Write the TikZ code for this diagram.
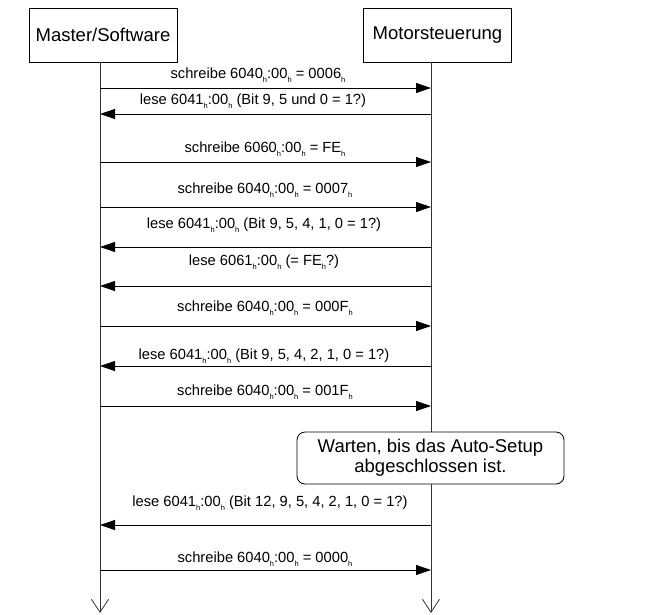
\documentclass[tikz,border=0pt]{standalone}
\usepackage{fontspec}
\setmainfont{Liberation Sans}
\usetikzlibrary{arrows.meta,shapes}
\newcommand{\hx}[1]{#1\raisebox{-0.45ex}{\fontsize{7.5}{8}\selectfont h}}
\tikzstyle{party}=[rectangle,draw=black,thick,minimum width=148pt,minimum height=54pt,font=\fontsize{18.5}{21}\selectfont]
\tikzstyle{note}=[rectangle,rounded corners=8pt,draw=black,thick,fill=white,minimum width=267pt,minimum height=52pt,align=center,font=\fontsize{18.5}{20}\selectfont]
\tikzstyle{lifeline}=[draw=black!80,thick,-{Straight Barb[length=13pt,width=17pt,line width=0.8pt]}]
\tikzstyle{msg}=[draw=black,thick]
\tikzstyle{label}=[inner sep=0pt,font=\fontsize{14.7}{16}\selectfont]

\begin{document}
\begin{tikzpicture}[x=1pt,y=-1pt,>={Triangle[length=15pt,width=10pt]}]
        \useasboundingbox (0,0) rectangle (646,614);

        \node at (103,35)   [party] (master) {Master/Software};
        \node at (437.5,35) [party] (motor)  {Motorsteuerung};

        \coordinate (mEnd) at (100,613);
        \coordinate (sEnd) at (431,613);
        \draw [lifeline] (mEnd |- master.south) -- (mEnd);
        \draw [lifeline] (sEnd |- motor.south) -- (sEnd);

        % Nachrichten
        \coordinate (m1) at (100,88);  \coordinate (s1) at (431,88);
        \coordinate (m2) at (100,114); \coordinate (s2) at (431,114);
        \coordinate (m3) at (100,162); \coordinate (s3) at (431,162);
        \coordinate (m4) at (100,207); \coordinate (s4) at (431,207);
        \coordinate (m5) at (100,247); \coordinate (s5) at (431,247);
        \coordinate (m6) at (100,286); \coordinate (s6) at (431,286);
        \coordinate (m7) at (100,326); \coordinate (s7) at (431,326);
        \coordinate (m8) at (100,366); \coordinate (s8) at (431,366);
        \coordinate (m9) at (100,406); \coordinate (s9) at (431,406);
        \coordinate (m10) at (100,525); \coordinate (s10) at (431,525);
        \coordinate (m11) at (100,570); \coordinate (s11) at (431,570);

        \draw [msg,->] (m1) -- (s1);
        \draw [msg,->] (s2) -- (m2);
        \draw [msg,->] (m3) -- (s3);
        \draw [msg,->] (m4) -- (s4);
        \draw [msg,->] (s5) -- (m5);
        \draw [msg,->] (s6) -- (m6);
        \draw [msg,->] (m7) -- (s7);
        \draw [msg,->] (s8) -- (m8);
        \draw [msg,->] (m9) -- (s9);
        \draw [msg,->] (s10) -- (m10);
        \draw [msg,->] (m11) -- (s11);

        \node at (258,75)  [label] (t1)  {schreibe \hx{6040}:\hx{00} = \hx{0006}};
        \node at (253,101) [label] (t2)  {lese \hx{6041}:\hx{00} (Bit 9, 5 und 0 = 1?)};
        \node at (265,149) [label] (t3)  {schreibe \hx{6060}:\hx{00} = \hx{FE}};
        \node at (265,190) [label] (t4)  {schreibe \hx{6040}:\hx{00} = \hx{0007}};
        \node at (264,225) [label] (t5)  {lese \hx{6041}:\hx{00} (Bit 9, 5, 4, 1, 0 = 1?)};
        \node at (264,262) [label] (t6)  {lese \hx{6061}:\hx{00} (= \hx{FE}?)};
        \node at (265,308) [label] (t7)  {schreibe \hx{6040}:\hx{00} = \hx{000F}};
        \node at (264,356) [label] (t8)  {lese \hx{6041}:\hx{00} (Bit 9, 5, 4, 2, 1, 0 = 1?)};
        \node at (265,392) [label] (t9)  {schreibe \hx{6040}:\hx{00} = \hx{001F}};
        \node at (270,503) [label] (t10) {lese \hx{6041}:\hx{00} (Bit 12, 9, 5, 4, 2, 1, 0 = 1?)};
        \node at (265,559) [label] (t11) {schreibe \hx{6040}:\hx{00} = \hx{0000}};

        \node at (430.5,458) [note] (wait) {Warten, bis das Auto-Setup\\abgeschlossen ist.};
      \end{tikzpicture}
\end{document}
